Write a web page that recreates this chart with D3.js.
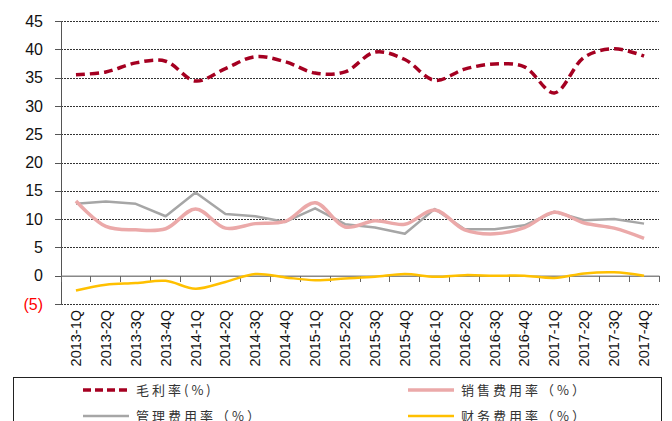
<!DOCTYPE html>
<html><head><meta charset="utf-8">
<script src="https://cdn.jsdelivr.net/npm/d3@7/dist/d3.min.js"></script>
<style>body{margin:0;background:#fff;} svg{display:block;}</style>
</head><body>
<svg id="chart" width="672" height="421"></svg>
<script>
const categories = ["2013-1Q","2013-2Q","2013-3Q","2013-4Q","2014-1Q","2014-2Q","2014-3Q","2014-4Q","2015-1Q","2015-2Q","2015-3Q","2015-4Q","2016-1Q","2016-2Q","2016-3Q","2016-4Q","2017-1Q","2017-2Q","2017-3Q","2017-4Q"];
const grossMargin = [35.5,36.0,37.6,37.9,34.4,36.6,38.7,37.8,35.8,36.0,39.5,38.2,34.5,36.5,37.4,36.9,32.3,38.6,40.1,38.8];
const salesExp = [13.2,8.7,8.1,8.3,11.8,8.4,9.2,9.6,12.9,8.6,9.7,9.1,11.6,8.1,7.4,8.5,11.2,9.3,8.4,6.6];
const adminExp = [12.7,13.1,12.7,10.5,14.7,10.9,10.5,9.5,11.9,9.1,8.5,7.4,11.8,8.2,8.2,8.9,11.3,9.8,10.0,9.2];
const finExp = [-2.6,-1.6,-1.3,-0.9,-2.3,-1.1,0.3,-0.3,-0.8,-0.5,-0.2,0.3,-0.2,0.1,0.0,0.0,-0.4,0.4,0.6,0.0];
const yTicks = [-5,0,5,10,15,20,25,30,35,40,45];
const legendLabels = ["毛利率(%)","销售费用率（%）","管理费用率（%）","财务费用率（%）"];

const svg = d3.select("#chart");
const mLeft = 61, mRight = 659, mTop = 21, mBottom = 304;
const x = d3.scaleBand().domain(categories).range([mLeft, mRight]);
const y = d3.scaleLinear().domain([-5, 45]).range([mBottom, mTop]);

// gridlines
svg.append("g").selectAll("line").data(yTicks.filter(d => d !== 0)).join("line")
  .attr("x1", mLeft).attr("x2", mRight)
  .attr("y1", d => Math.round(y(d)) + 0.5).attr("y2", d => Math.round(y(d)) + 0.5)
  .attr("stroke", "#333").attr("stroke-width", 1).attr("stroke-dasharray", "2,1");

// y axis
const yAxis = svg.append("g").attr("transform", `translate(${mLeft},0)`)
  .call(d3.axisLeft(y).tickValues(yTicks).tickSize(6).tickPadding(12)
    .tickFormat(d => d < 0 ? `(${Math.abs(d)})` : d));
yAxis.select(".domain").attr("stroke", "#555").attr("shape-rendering", "crispEdges");
yAxis.selectAll(".tick line").attr("stroke", "#555").attr("shape-rendering", "crispEdges");
yAxis.selectAll("text").attr("font-family", "Arial, 'Liberation Sans', sans-serif")
  .attr("font-size", 16).attr("fill", d => d < 0 ? "#FF0000" : "#111");

// x axis at zero
const xAxis = svg.append("g").attr("transform", `translate(0,${y(0)})`)
  .call(d3.axisBottom(x).tickSize(0).tickFormat(""));
xAxis.select(".domain").attr("stroke", "#888").attr("stroke-width", 1.5);
svg.append("g").selectAll("line").data(categories.concat(["end"])).join("line")
  .attr("x1", (d, i) => mLeft + i * x.step()).attr("x2", (d, i) => mLeft + i * x.step())
  .attr("y1", y(0)).attr("y2", y(0) + 6)
  .attr("stroke", "#666").attr("shape-rendering", "crispEdges");

// x labels (rotated)
svg.append("g").selectAll("text").data(categories).join("text")
  .attr("transform", d => `translate(${x(d) + x.bandwidth()/2 + 5},${mBottom + 6}) rotate(-90)`)
  .attr("text-anchor", "end")
  .attr("font-family", "Arial, 'Liberation Sans', sans-serif")
  .attr("font-size", 14.5).attr("fill", "#111").text(d => d);

const cx = (d, i) => x(categories[i]) + x.bandwidth() / 2;
const smooth = d3.line().x(cx).y(d => y(d)).curve(d3.curveCatmullRom.alpha(0.5));
const straight = d3.line().x(cx).y(d => y(d));

const series = [
  {data: adminExp, color: "#A6A6A6", w: 2.5, dash: null, gen: straight},
  {data: salesExp, color: "#EBA9A9", w: 3.5, dash: null, gen: smooth},
  {data: finExp, color: "#FFC000", w: 2.5, dash: null, gen: smooth},
  {data: grossMargin, color: "#A50021", w: 3.5, dash: "9,5", gen: smooth}
];
series.forEach(s => {
  svg.append("path").attr("d", s.gen(s.data)).attr("fill", "none")
    .attr("stroke", s.color).attr("stroke-width", s.w)
    .attr("stroke-dasharray", s.dash).attr("stroke-linejoin", "round");
});

// legend
svg.append("rect").attr("x", 13.5).attr("y", 377.5).attr("width", 648).attr("height", 60)
  .attr("fill", "none").attr("stroke", "#222").attr("stroke-width", 1);
const legendItems = [
  {label: legendLabels[0], color: "#A50021", dash: "8,4", w: 3.5, lx: 83, ly: 390},
  {label: legendLabels[1], color: "#EBA9A9", dash: null, w: 3.5, lx: 408, ly: 390},
  {label: legendLabels[2], color: "#A6A6A6", dash: null, w: 2.5, lx: 83, ly: 416},
  {label: legendLabels[3], color: "#FFC000", dash: null, w: 2.5, lx: 408, ly: 416}
];
const lg = svg.append("g").selectAll("g").data(legendItems).join("g");
lg.append("line").attr("x1", d => d.lx).attr("x2", d => d.lx + 46)
  .attr("y1", d => d.ly).attr("y2", d => d.ly)
  .attr("stroke", d => d.color).attr("stroke-width", d => d.w).attr("stroke-dasharray", d => d.dash);
lg.append("text").attr("x", d => d.lx + 53).attr("y", d => d.ly + 5)
  .attr("font-family", "'Noto Sans CJK SC', sans-serif").attr("font-size", 13)
  .attr("letter-spacing", 3).attr("fill", "#333").text(d => d.label);
</script>
</body></html>
